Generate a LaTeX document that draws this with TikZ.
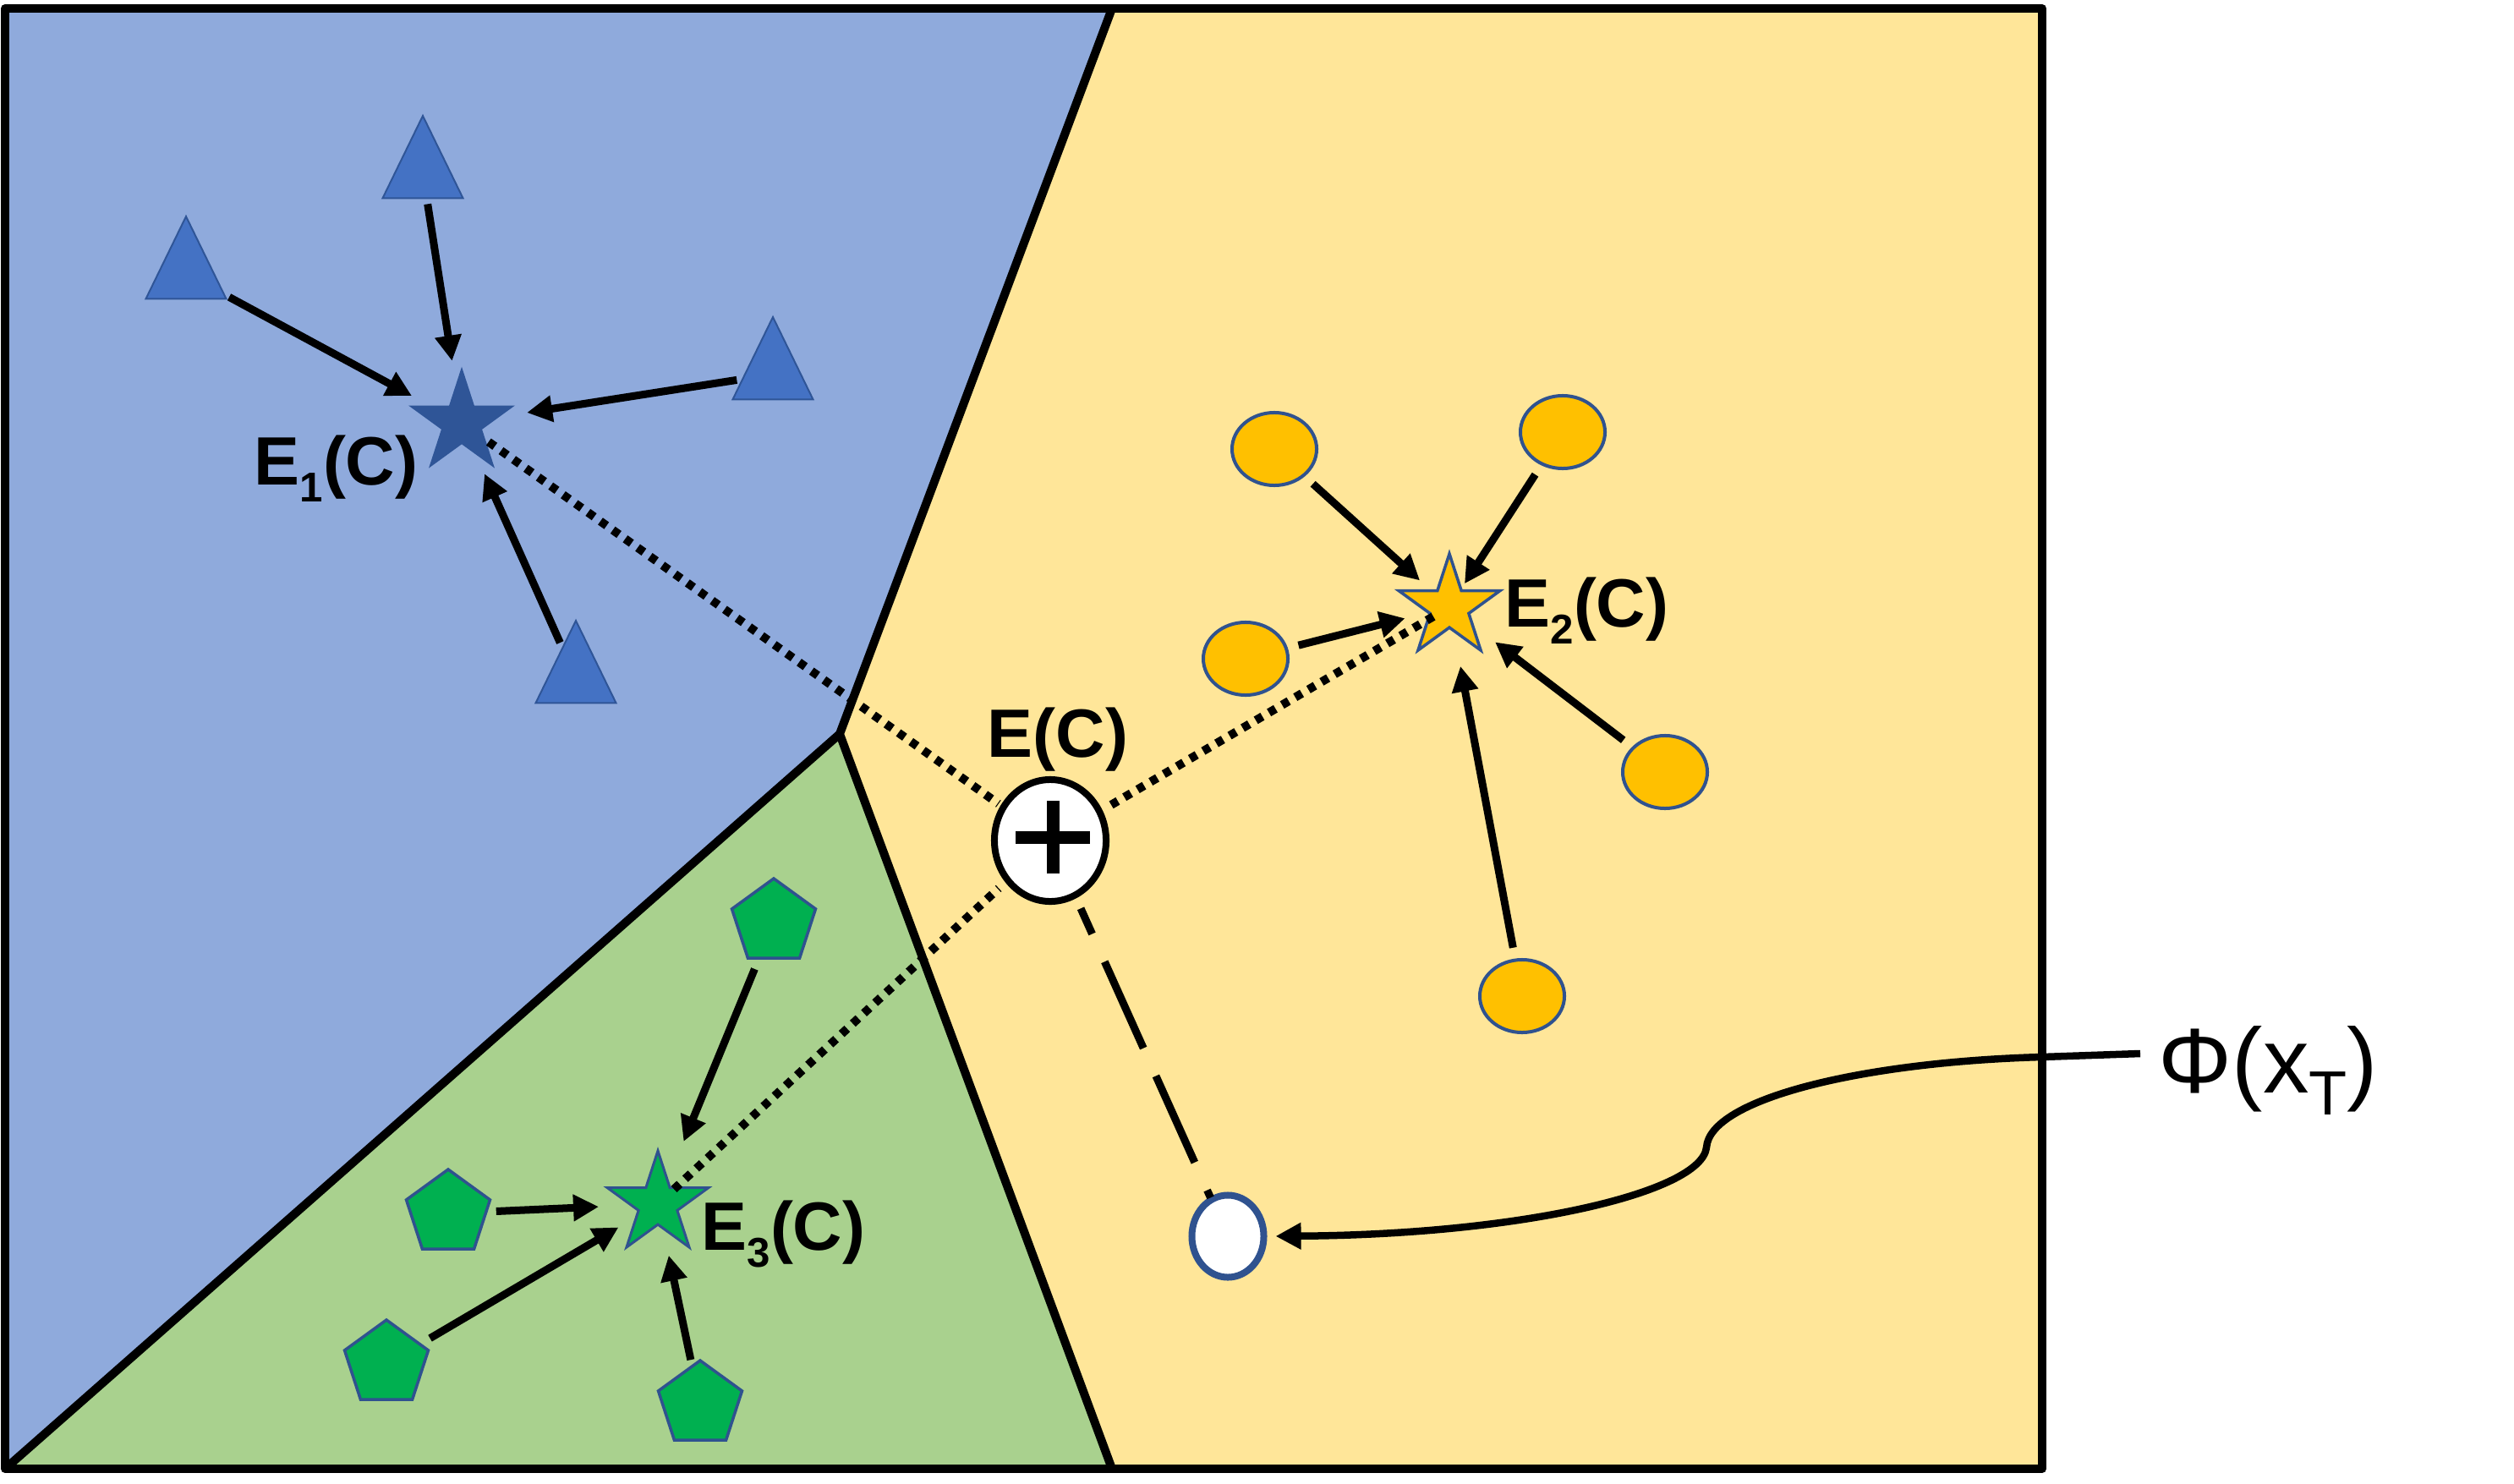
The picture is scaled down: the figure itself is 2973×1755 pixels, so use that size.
\documentclass[tikz,border=0pt]{standalone}
\usepackage{fontspec}
\setmainfont{Liberation Sans}
\usetikzlibrary{shapes.geometric,arrows.meta,calc}
\definecolor{bluereg}{HTML}{8FAADC}
\definecolor{greenreg}{HTML}{A9D18E}
\definecolor{yellowreg}{HTML}{FFE699}
\definecolor{triblue}{HTML}{4472C4}
\definecolor{edgeblue}{HTML}{2F528F}
\definecolor{stardark}{HTML}{2F5597}
\definecolor{gold}{HTML}{FFC000}
\definecolor{pgreen}{HTML}{00B050}
\newcommand\lsub[1]{\raisebox{-5.7pt}{\fontsize{14}{14}\selectfont #1}}
\newcommand\phisub[1]{\raisebox{-7.4pt}{\fontsize{21}{21}\selectfont #1}}
\begin{document}
\begin{tikzpicture}[x=0.01cm,y=-0.01cm,
  border/.style={line width=0.10cm, line join=round},
  tri/.style={isosceles triangle, isosceles triangle apex angle=52, shape border rotate=90,
     minimum width=0.95cm, minimum height=0.95cm, inner sep=0pt, outer sep=0pt,
     fill=triblue, draw=stardark, line width=0.02cm, anchor=apex},
  circ/.style={ellipse, minimum width=1.0cm, minimum height=0.86cm, inner sep=0pt,
     fill=gold, draw=edgeblue, line width=0.04cm},
  pent/.style={regular polygon, regular polygon sides=5, minimum size=1.04cm, inner sep=0pt,
     fill=pgreen, draw=edgeblue, line width=0.035cm},
  starnode/.style={star, star points=5, star point ratio=2.618, minimum size=1.26cm, inner sep=0pt},
  arr/.style={-{Triangle[length=0.30cm,width=0.30cm]}, line width=0.09cm},
  dotline/.style={line width=0.10cm, dash pattern=on 0.09cm off 0.09cm},
  dashline/.style={line width=0.09cm, dash pattern=on 1.12cm off 0.36cm, dash phase=0.79cm},
  lab/.style={font=\bfseries\fontsize{23}{27}\selectfont, inner sep=0pt, anchor=base west},
  philab/.style={font=\fontsize{31}{36}\selectfont, inner sep=0pt, anchor=base west}
]
\useasboundingbox (0,0) rectangle (2973,1755);
% regions
\fill[bluereg] (6,10) -- (1315,10) -- (993,868) -- (6,1737) -- cycle;
\fill[greenreg] (993,868) -- (1315,1737) -- (6,1737) -- cycle;
\fill[yellowreg] (1315,10) -- (2415,10) -- (2415,1737) -- (1315,1737) -- (993,868) -- cycle;
\draw[border] (1315,10) -- (993,868) -- (1315,1737);
\draw[border] (993,868) -- (6,1737);
\draw[border] (6,10) rectangle (2415,1737);

% cluster 1: triangles
\node[tri] (t1) at (500,137) {};
\node[tri] (t2) at (220,256) {};
\node[tri] (t3) at (914,375) {};
\node[tri] (t4) at (681,734) {};
\node[starnode, fill=stardark, draw=stardark, line width=0.02cm] (e1) at (546,500) {};
\node[lab] (l1) at (300,573) {E\lsub{1}(C)};

% cluster 2: circles
\node[circ] (c1) at (1507,531) {};
\node[circ] (c2) at (1848,511) {};
\node[circ] (c3) at (1473,779) {};
\node[circ] (c4) at (1969,913) {};
\node[circ] (c5) at (1800,1178) {};
\node[starnode, fill=gold, draw=edgeblue, line width=0.035cm] (e2) at (1714,718) {};
\node[lab] (l2) at (1779,741) {E\lsub{2}(C)};

% cluster 3: pentagons
\node[pent] (p1) at (915,1091) {};
\node[pent] (p2) at (530,1435) {};
\node[pent] (p3) at (457,1613) {};
\node[pent] (p4) at (828,1661) {};
\node[starnode, fill=pgreen, draw=edgeblue, line width=0.03cm] (e3) at (778,1424) {};
\node[lab] (l3) at (829,1478) {E\lsub{3}(C)};

% centre and test point
\node[ellipse, minimum width=1.32cm, minimum height=1.44cm, inner sep=0pt, fill=white, draw=black, line width=0.08cm] (ec) at (1242,994) {};
\node[lab] (l0) at (1167,895) {E(C)};
\coordinate (pc) at ([shift={(3,-4)}]ec.center);
\draw[line width=0.15cm] ([xshift=-0.44cm]pc) -- ([xshift=0.44cm]pc);
\draw[line width=0.15cm] ([yshift=-0.43cm]pc) -- ([yshift=0.43cm]pc);
\node[ellipse, minimum width=0.85cm, minimum height=0.97cm, inner sep=0pt, fill=white, draw=edgeblue, line width=0.08cm] (xt) at (1452,1462) {};

% arrows to E1
\draw[arr, shorten <=0.07cm, shorten >=0.74cm] (t1) -- (e1.center);
\draw[arr, shorten <=0.07cm, shorten >=0.67cm] (t2) -- (e1.center);
\draw[arr, shorten <=0.07cm, shorten >=0.78cm] (t3) -- (e1.center);
\draw[arr, shorten <=0.07cm, shorten >=0.66cm] (t4) -- (e1.center);
% arrows to E2
\draw[arr, shorten <=0.13cm, shorten >=0.47cm] (c1) -- (e2.center);
\draw[arr, shorten <=0.13cm, shorten >=0.33cm] (c2) -- (e2.center);
\draw[arr, shorten <=0.13cm, shorten >=0.54cm] (c3) -- (e2.center);
\draw[arr, shorten <=0.13cm, shorten >=0.68cm] (c4) -- (e2.center);
\draw[arr, shorten <=0.13cm, shorten >=0.71cm] (c5) -- (e2.center);
% arrows to E3
\draw[arr, shorten <=0.12cm, shorten >=0.80cm] (p1) -- (e3.center);
\draw[arr, shorten <=0.10cm, shorten >=0.70cm] (p2) -- (e3.center);
\draw[arr, shorten <=0.12cm, shorten >=0.54cm] (p3) -- (e3.center);
\draw[arr, shorten <=0.06cm, shorten >=0.62cm] (p4) -- (e3.center);

% dotted lines to E(C)
\draw[dotline, shorten <=0.39cm, shorten >=0.75cm] (e1.center) -- (ec.center);
\draw[dotline, shorten <=0.22cm, shorten >=0.79cm] (e2.center) -- (ec.center);
\draw[dotline, shorten <=0.26cm, shorten >=0.83cm] (e3.center) -- (ec.center);

% dashed line to test point
\draw[dashline, shorten <=0.88cm, shorten >=0.5cm] (ec.center) -- (xt.center);

% label Phi(x_T) with curved pointer
\node[philab] (phi) at (2552,1292) {Φ(x\phisub{T})};
\coordinate (phistart) at (2531,1246);
\draw[arr, line width=0.085cm, shorten >=0.1cm] (phistart) -- (2415,1250)
   .. controls (2200,1256) and (2022,1300) .. (2018,1357)
   .. controls (2012,1410) and (1800,1460) .. (xt.east);
\end{tikzpicture}
\end{document}
